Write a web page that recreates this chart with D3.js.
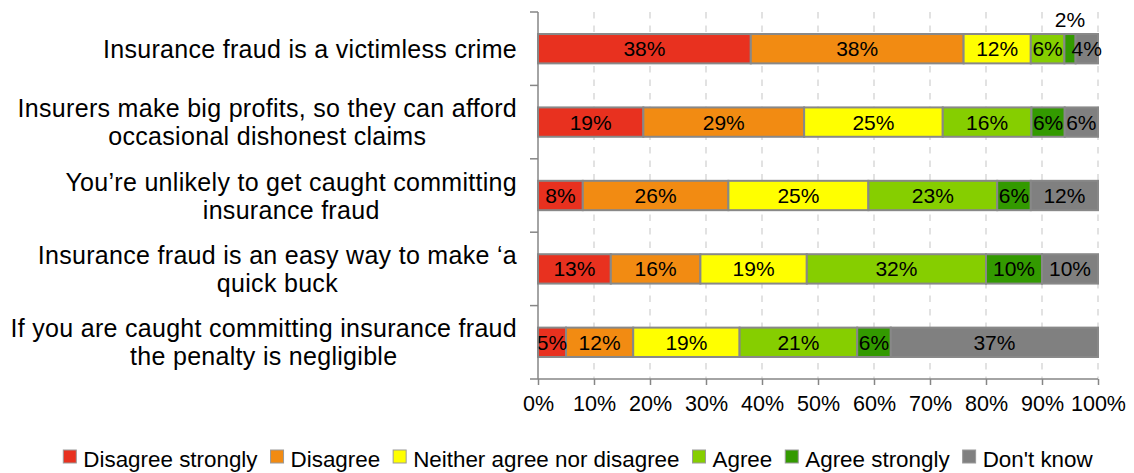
<!DOCTYPE html>
<html>
<head>
<meta charset="utf-8">
<script src="https://cdn.jsdelivr.net/npm/d3@7"></script>
<style>
  html, body { margin: 0; padding: 0; background: #ffffff; }
  svg { display: block; font-family: "Liberation Sans", Arial, sans-serif; }
</style>
</head>
<body>
<svg id="chart" width="1134" height="473"></svg>
<script>
// Survey statements (line breaks mark where each label wraps)
const categories = [
  "Insurance fraud is a victimless crime",
  "Insurers make big profits, so they can afford\noccasional dishonest claims",
  "You\u2019re unlikely to get caught committing\ninsurance fraud",
  "Insurance fraud is an easy way to make \u2018a\nquick buck",
  "If you are caught committing insurance fraud\nthe penalty is negligible"
];

// Response options, in stacking order
const seriesNames = [
  "Disagree strongly",
  "Disagree",
  "Neither agree nor disagree",
  "Agree",
  "Agree strongly",
  "Don't know"
];

// Percentages per statement, one array per response option
const disagreeStrongly = [38, 19, 8, 13, 5];
const disagree         = [38, 29, 26, 16, 12];
const neither          = [12, 25, 25, 19, 19];
const agree            = [6, 16, 23, 32, 21];
const agreeStrongly    = [2, 6, 6, 10, 6];
const dontKnow         = [4, 6, 12, 10, 37];

const seriesColors = ["#E8311F", "#F28B12", "#FFFF00", "#86CE00", "#339A00", "#808080"];

const xTickValues = [0, 10, 20, 30, 40, 50, 60, 70, 80, 90, 100];

// ---- build rows for the stack ----
const seriesValues = [disagreeStrongly, disagree, neither, agree, agreeStrongly, dontKnow];
const rows = categories.map((c, i) => {
  const r = { category: c };
  seriesNames.forEach((s, j) => { r[s] = seriesValues[j][i]; });
  return r;
});

// 100% stacked: each statement's responses fill the full width
const stacked = d3.stack()
  .keys(seriesNames)
  .offset(d3.stackOffsetExpand)(rows);

const svg = d3.select("#chart");
const gridColor = "#D9D9D9";
const axisColor = "#868686";

const x = d3.scaleLinear().domain([0, 100]).range([538, 1098]);
const y = d3.scaleBand().domain(categories).range([12, 379]).paddingInner(0.6).paddingOuter(0.3);
const color = d3.scaleOrdinal().domain(seriesNames).range(seriesColors);

// ---- vertical dashed gridlines ----
svg.append("g")
  .selectAll("line")
  .data(xTickValues.filter(v => v > 0))
  .join("line")
  .attr("x1", d => x(d)).attr("x2", d => x(d))
  .attr("y1", 12).attr("y2", 379)
  .attr("stroke", gridColor)
  .attr("stroke-width", 1.5)
  .attr("stroke-dasharray", "6.5,7");

// ---- bars ----
const layers = svg.append("g")
  .selectAll("g")
  .data(stacked)
  .join("g")
  .attr("fill", d => color(d.key));

layers.selectAll("rect")
  .data(d => d)
  .join("rect")
  .attr("x", d => x(d[0] * 100))
  .attr("width", d => x(d[1] * 100) - x(d[0] * 100))
  .attr("y", d => y(d.data.category))
  .attr("height", y.bandwidth())
  .attr("stroke", "#888888")
  .attr("stroke-width", 2);

// ---- segment value labels ----
const labelData = [];
stacked.forEach(layer => {
  layer.forEach(d => {
    labelData.push({
      value: d.data[layer.key],
      x0: d[0] * 100, x1: d[1] * 100,
      category: d.data.category
    });
  });
});

svg.append("g")
  .attr("font-size", 21)
  .attr("fill", "#000")
  .attr("text-anchor", "middle")
  .selectAll("text")
  .data(labelData)
  .join("text")
  .attr("x", d => (x(d.x0) + x(d.x1)) / 2)
  .attr("y", d => {
    const mid = y(d.category) + y.bandwidth() / 2;
    // very thin segments get their label above the bar
    return d.value < 3 ? y(d.category) - 7 : mid + 7.5;
  })
  .text(d => d.value + "%");

// ---- y axis: line, ticks between categories, wrapped labels ----
const yAxis = svg.append("g");
yAxis.append("line")
  .attr("x1", 538).attr("x2", 538)
  .attr("y1", 12).attr("y2", 379)
  .attr("stroke", axisColor).attr("stroke-width", 1.5);

const boundaries = categories.map(c => y(c) - y.step() * y.paddingInner() / 2);
boundaries.push(379);
yAxis.selectAll("line.tick")
  .data(boundaries)
  .join("line")
  .attr("class", "tick")
  .attr("x1", 530).attr("x2", 538)
  .attr("y1", d => d).attr("y2", d => d)
  .attr("stroke", axisColor).attr("stroke-width", 1.5);

const labelRight = 517;
const lineGap = 28;
categories.forEach(c => {
  const lines = c.split("\n");
  const g = yAxis.append("g")
    .attr("font-size", 25)
    .attr("letter-spacing", 0.3)
    .attr("fill", "#000");
  const texts = lines.map(l => g.append("text").text(l));
  const maxW = d3.max(texts, t => t.node().getComputedTextLength());
  const cx = labelRight - maxW / 2;
  const mid = y(c) + y.bandwidth() / 2;
  texts.forEach((t, i) => {
    t.attr("x", cx)
      .attr("text-anchor", "middle")
      .attr("y", mid + (i - (lines.length - 1) / 2) * lineGap + 9);
  });
});

// ---- x axis ----
const xAxisG = svg.append("g").attr("transform", "translate(0,379)");
xAxisG.call(
  d3.axisBottom(x)
    .tickValues(xTickValues)
    .tickSize(6)
    .tickPadding(11)
    .tickFormat(d => d + "%")
);
xAxisG.select(".domain")
  .attr("d", `M${x(0)},0H${x(100)}`)
  .attr("stroke", axisColor).attr("stroke-width", 1.5);
xAxisG.selectAll(".tick line").attr("stroke", axisColor).attr("stroke-width", 1.5);
xAxisG.selectAll(".tick text")
  .attr("font-size", 21.5)
  .attr("font-family", "'Liberation Sans', Arial, sans-serif")
  .attr("fill", "#000");

// ---- legend ----
const legend = svg.append("g").attr("font-size", 22.4);
const items = seriesNames.map(name => {
  const g = legend.append("g");
  g.append("rect")
    .attr("width", 13).attr("height", 13)
    .attr("y", 450)
    .attr("fill", color(name))
    .attr("stroke", "#9a9a9a").attr("stroke-width", 1);
  const t = g.append("text").attr("x", 20).attr("y", 466.5).attr("fill", "#000").text(name);
  return { g, w: 20 + t.node().getComputedTextLength() };
});
const itemGap = 13;
const totalW = d3.sum(items, d => d.w) + itemGap * (items.length - 1);
let cursor = 578 - totalW / 2;
items.forEach(it => {
  it.g.attr("transform", `translate(${cursor},0)`);
  cursor += it.w + itemGap;
});
</script>
</body>
</html>
